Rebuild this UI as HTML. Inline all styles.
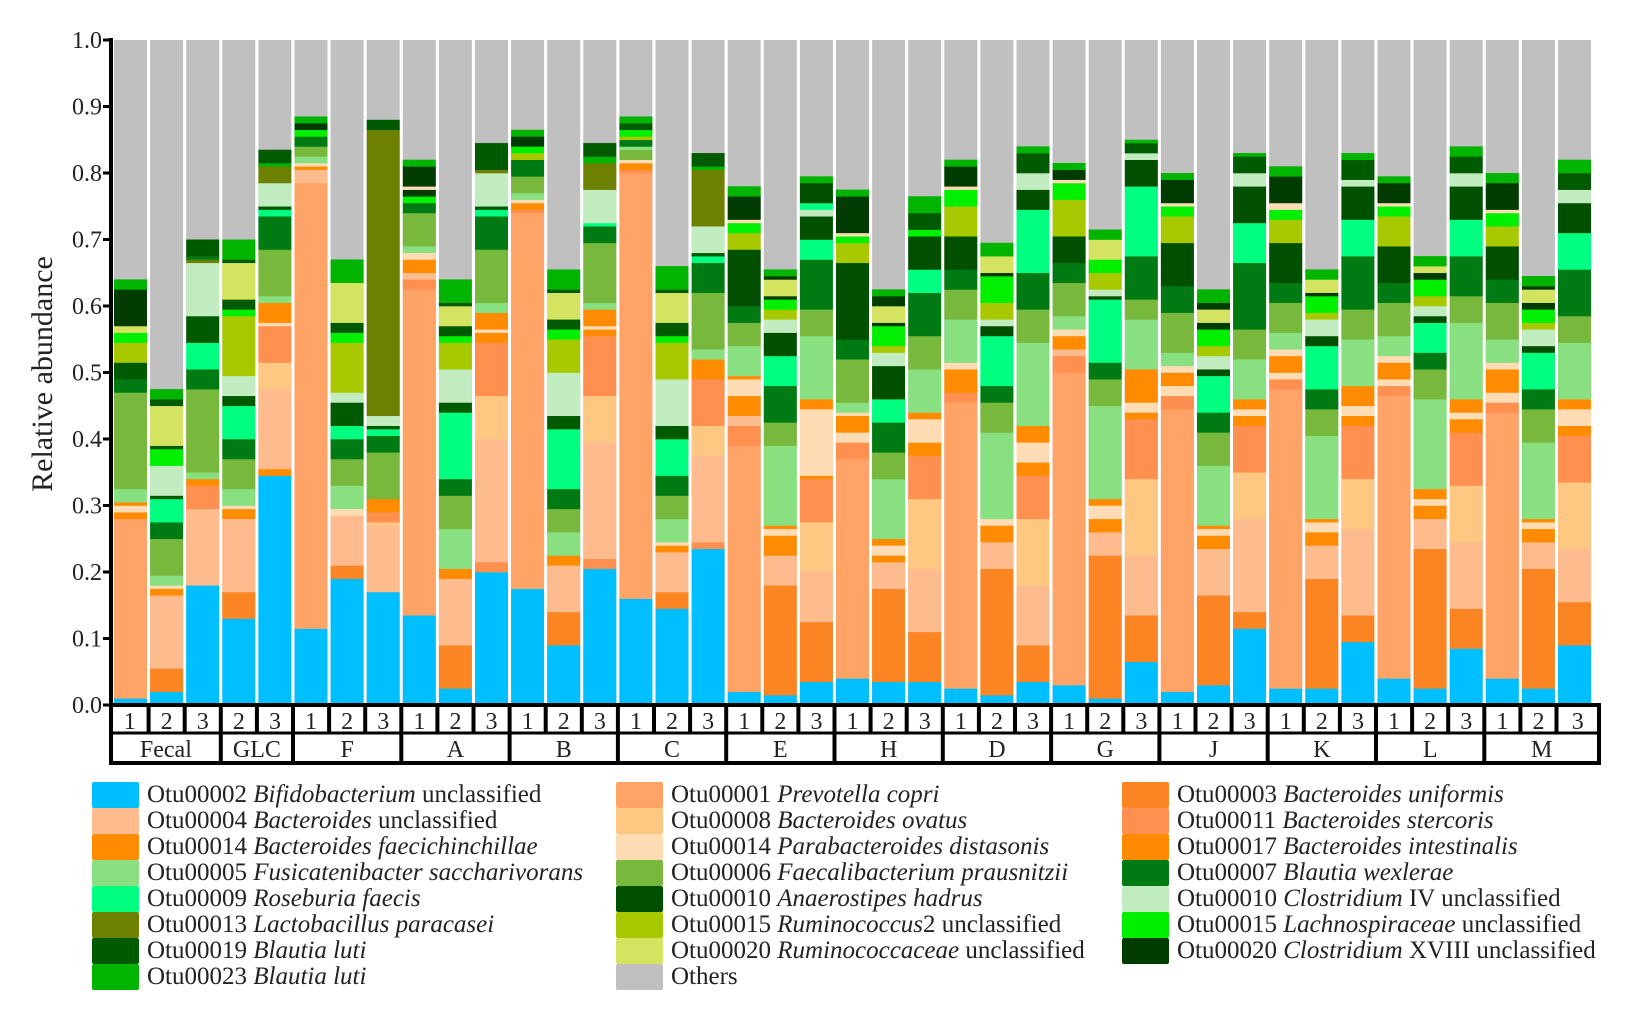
<!DOCTYPE html>
<html><head><meta charset="utf-8">
<style>
body{margin:0;background:#fff;width:1641px;height:1010px;overflow:hidden;position:relative;font-family:"Liberation Serif",serif;}
svg{position:absolute;left:0;top:0}
.lg{position:absolute;font-size:25px;line-height:26px;color:#222;white-space:nowrap}
.lg div{height:26px;position:relative}
.lg span.s{position:absolute;width:47px;height:26px;top:0;border-radius:2px}
.lg span.t{position:absolute;left:55px;top:0}
i{font-style:italic}
</style></head><body>
<svg id="ch" width="1641" height="1010" xmlns="http://www.w3.org/2000/svg" font-family="Liberation Serif, serif">
<text x="0" y="0" transform="translate(52,374) rotate(-90)" text-anchor="middle" font-size="30" fill="#222">Relative abundance</text>
<g id="ticks" font-size="24" fill="#222" text-anchor="end"></g>
<g id="bars"></g>
<g id="tbl"></g>
</svg>

<div class="lg" style="left:92px;top:782px">
<div><span class="s" style="background:#00bfff"></span><span class="t">Otu00002 <i>Bifidobacterium</i> unclassified</span></div>
<div><span class="s" style="background:#fdbb8e"></span><span class="t">Otu00004 <i>Bacteroides</i> unclassified</span></div>
<div><span class="s" style="background:#ff8c00"></span><span class="t">Otu00014 <i>Bacteroides faecichinchillae</i></span></div>
<div><span class="s" style="background:#88e080"></span><span class="t">Otu00005 <i>Fusicatenibacter saccharivorans</i></span></div>
<div><span class="s" style="background:#00ff80"></span><span class="t">Otu00009 <i>Roseburia faecis</i></span></div>
<div><span class="s" style="background:#6e8000"></span><span class="t">Otu00013 <i>Lactobacillus paracasei</i></span></div>
<div><span class="s" style="background:#005a00"></span><span class="t">Otu00019 <i>Blautia luti</i></span></div>
<div><span class="s" style="background:#00b400"></span><span class="t">Otu00023 <i>Blautia luti</i></span></div>
</div>
<div class="lg" style="left:616px;top:782px">
<div><span class="s" style="background:#ffa366"></span><span class="t">Otu00001 <i>Prevotella copri</i></span></div>
<div><span class="s" style="background:#ffc882"></span><span class="t">Otu00008 <i>Bacteroides ovatus</i></span></div>
<div><span class="s" style="background:#ffdcb4"></span><span class="t">Otu00014 <i>Parabacteroides distasonis</i></span></div>
<div><span class="s" style="background:#78b83c"></span><span class="t">Otu00006 <i>Faecalibacterium prausnitzii</i></span></div>
<div><span class="s" style="background:#005000"></span><span class="t">Otu00010 <i>Anaerostipes hadrus</i></span></div>
<div><span class="s" style="background:#a8c800"></span><span class="t">Otu00015 <i>Ruminococcus</i>2 unclassified</span></div>
<div><span class="s" style="background:#d4e460"></span><span class="t">Otu00020 <i>Ruminococcaceae</i> unclassified</span></div>
<div><span class="s" style="background:#c0c0c0"></span><span class="t">Others</span></div>
</div>
<div class="lg" style="left:1122px;top:782px">
<div><span class="s" style="background:#fb8423"></span><span class="t">Otu00003 <i>Bacteroides uniformis</i></span></div>
<div><span class="s" style="background:#ff9050"></span><span class="t">Otu00011 <i>Bacteroides stercoris</i></span></div>
<div><span class="s" style="background:#ff8a00"></span><span class="t">Otu00017 <i>Bacteroides intestinalis</i></span></div>
<div><span class="s" style="background:#007a12"></span><span class="t">Otu00007 <i>Blautia wexlerae</i></span></div>
<div><span class="s" style="background:#c0ecc0"></span><span class="t">Otu00010 <i>Clostridium</i> IV unclassified</span></div>
<div><span class="s" style="background:#00f000"></span><span class="t">Otu00015 <i>Lachnospiraceae</i> unclassified</span></div>
<div><span class="s" style="background:#003c00"></span><span class="t">Otu00020 <i>Clostridium</i> XVIII unclassified</span></div>
</div>

<script>
var C={blue:"#00bfff",P:"#ffa366",Bu:"#fdbb8e",Bf:"#ff8c00",Bun:"#fb8423",Bov:"#ffc882",Bst:"#ff9050",Pd:"#ffdcb4",Fus:"#88e080",Fae:"#78b83c",Ros:"#00ff80",Bw:"#007a12",Ah:"#005000",Cl4:"#c0ecc0",Lp:"#6e8000",Rum2:"#a8c800",Lach:"#00f000",B19:"#005a00",Rc:"#d4e460",C18:"#003c00",B23:"#00b400"};
var D=[
"blue .01 P .28 Bf .29 Pd .30 Bf .305 Fus .325 Fae .47 Bw .49 B19 .515 Rum2 .545 Lach .56 Rc .57 C18 .625 B23 .64",
"blue .02 Bun .055 Bu .165 Bf .175 Pd .18 Fus .195 Fae .25 Bw .275 Ros .31 B19 .315 Cl4 .36 Lach .385 B19 .39 Rc .45 B19 .46 B23 .475",
"blue .18 Bu .295 Bst .33 Bf .34 Fus .35 Fae .475 Bw .505 Ros .545 B19 .585 Cl4 .665 Lp .67 Bw .675 B19 .70",
"blue .13 Bun .17 Bu .28 Bf .295 Pd .30 Fus .325 Fae .37 Bw .40 Ros .45 B19 .465 Cl4 .495 Rum2 .585 Lach .595 B19 .61 Rc .665 B19 .67 B23 .70",
"blue .345 Bf .355 Bu .475 Bov .515 Bst .57 Pd .575 Bf .605 Fus .615 Fae .685 Bw .735 Ros .745 B19 .75 Cl4 .785 Lp .81 B23 .815 B19 .835",
"blue .115 P .785 Bu .805 Bf .81 Pd .815 Fus .825 Fae .84 Bw .855 Lach .865 C18 .875 B23 .885",
"blue .19 Bun .21 Bu .285 Pd .295 Fus .33 Fae .37 Bw .40 Ros .42 B19 .455 Cl4 .47 Rum2 .545 Lach .56 B19 .575 Rc .635 B23 .67",
"blue .17 Bu .27 Bov .275 Bst .29 Bf .31 Fae .38 Bw .405 Ros .415 B19 .42 Cl4 .435 Lp .865 B19 .88",
"blue .135 P .625 Bst .64 Bu .65 Bf .67 Pd .68 Fus .69 Fae .74 Bw .755 Lach .765 C18 .775 Pd .78 C18 .81 B23 .82",
"blue .025 Bun .09 Bu .19 Bf .205 Fus .265 Fae .315 Bw .34 Ros .44 B19 .455 Cl4 .505 Rum2 .545 Lach .555 B19 .57 Rc .60 B19 .605 B23 .64",
"blue .20 Bst .215 Bu .40 Bov .465 Bst .545 Bf .56 Pd .565 Bf .59 Fus .605 Fae .685 Bw .735 Ros .745 B19 .75 Cl4 .80 Lp .805 B19 .845",
"blue .175 P .74 Bst .745 Bf .755 Pd .76 Fus .77 Fae .795 Bw .82 Rum2 .83 Lach .84 C18 .855 B23 .865",
"blue .09 Bun .14 Bu .21 Bf .225 Fus .26 Fae .295 Bw .325 Ros .415 B19 .435 Cl4 .50 Rum2 .55 Lach .565 B19 .58 Rc .62 B19 .625 B23 .655",
"blue .205 Bst .22 Bu .395 Bov .465 Bst .555 Bf .565 Pd .57 Bf .595 Fus .605 Fae .695 Bw .72 Ros .725 Cl4 .775 Lp .815 B23 .825 B19 .845",
"blue .16 P .80 Bst .805 Bf .815 Pd .82 Fae .835 Fus .84 Bw .85 Rum2 .855 Lach .865 B19 .875 B23 .885",
"blue .145 Bun .17 Bu .23 Bf .24 Pd .245 Fus .28 Fae .315 Bw .345 Ros .40 B19 .42 Cl4 .49 Rum2 .545 Lach .555 B19 .575 Rc .62 B19 .625 B23 .66",
"blue .235 Bst .245 Bu .375 Bov .42 Bst .49 Bf .52 Fus .535 Fae .62 Bw .665 Ros .675 B19 .68 Cl4 .72 Lp .805 B23 .81 B19 .83",
"blue .02 P .39 Bst .42 Bu .435 Bf .465 Pd .49 Bf .495 Fus .54 Fae .575 Bw .60 Ah .685 Rum2 .71 Lach .725 Pd .73 C18 .765 B23 .78",
"blue .015 Bun .18 Bu .225 Bf .255 Pd .265 Bf .27 Fus .39 Fae .425 Bw .48 Ros .525 Ah .56 Cl4 .58 Rum2 .595 Lach .61 C18 .615 Rc .64 C18 .645 B23 .655",
"blue .035 Bun .125 Bu .20 Bov .275 Bst .34 Bf .345 Pd .445 Bf .46 Fus .555 Fae .595 Bw .67 Ros .70 Ah .735 Cl4 .745 Ros .755 Ah .785 B23 .795",
"blue .04 P .37 Bst .395 Pd .41 Bf .435 Pd .44 Fus .455 Fae .52 Bw .55 Ah .665 Rum2 .695 Lach .705 Pd .71 C18 .765 B23 .775",
"blue .035 Bun .175 Bu .215 Bf .225 Pd .24 Bf .25 Fus .34 Fae .38 Bw .425 Ros .46 Ah .51 Cl4 .53 Rum2 .54 Lach .57 C18 .575 Rc .60 C18 .615 B23 .625",
"blue .035 Bun .11 Bu .205 Bov .31 Bst .375 Bf .395 Pd .43 Bf .44 Fus .505 Fae .555 Bw .62 Ros .655 Ah .705 Lach .715 B19 .74 B23 .765",
"blue .025 P .455 Bst .47 Bf .505 Pd .515 Fus .58 Fae .625 Bw .655 Ah .705 Rum2 .75 Lach .775 Pd .78 C18 .81 B23 .82",
"blue .015 Bun .205 Bu .245 Bf .27 Pd .28 Fus .41 Fae .455 Bw .48 Ros .555 Ah .57 Cl4 .58 Rum2 .605 Lach .645 C18 .65 Rc .675 B23 .695",
"blue .035 Bun .09 Bu .18 Bov .28 Bst .345 Bf .365 Pd .395 Bf .42 Fus .545 Fae .595 Bw .65 Ros .745 Ah .775 Cl4 .80 B19 .83 B23 .84",
"blue .03 P .50 Bst .525 Bu .535 Bf .555 Pd .565 Fus .585 Fae .635 Bw .665 Ah .705 Rum2 .76 Lach .785 Pd .79 C18 .805 B23 .815",
"blue .01 Bun .225 Bu .26 Bf .28 Pd .30 Bf .31 Fus .45 Fae .49 Bw .515 Ros .61 Ah .615 Cl4 .625 Rum2 .65 Lach .67 Rc .70 B23 .715",
"blue .065 Bun .135 Bu .225 Bov .34 Bst .43 Bf .44 Pd .455 Bf .505 Fus .58 Fae .61 Bw .675 Ros .78 Ah .82 Cl4 .83 B19 .845 B23 .85",
"blue .02 P .445 Bst .465 Pd .48 Bf .50 Pd .51 Fus .53 Fae .59 Bw .63 Ah .695 Rum2 .735 Lach .75 Pd .755 C18 .79 B23 .80",
"blue .03 Bun .165 Bu .235 Bf .255 Pd .265 Bf .27 Fus .36 Fae .41 Bw .44 Ros .495 Ah .505 Cl4 .525 Rum2 .54 Lach .565 C18 .575 Rc .595 C18 .605 B23 .625",
"blue .115 Bun .14 Bu .28 Bov .35 Bst .42 Bf .435 Pd .445 Bf .46 Fus .52 Fae .565 Bw .665 Ros .725 Ah .78 Cl4 .80 B19 .825 B23 .83",
"blue .025 P .475 Bst .49 Pd .50 Bf .525 Pd .535 Fus .56 Fae .605 Bw .635 Ah .695 Rum2 .73 Lach .745 Pd .755 C18 .795 B23 .81",
"blue .025 Bun .19 Bu .24 Bf .26 Pd .275 Bf .28 Fus .405 Fae .445 Bw .475 Ros .54 Ah .555 Cl4 .58 Rum2 .59 Lach .615 C18 .62 Rc .64 B23 .655",
"blue .095 Bun .135 Bu .265 Bov .34 Bst .42 Bf .435 Pd .45 Bf .48 Fus .55 Fae .595 Bw .675 Ros .73 Ah .78 Cl4 .79 B19 .82 B23 .83",
"blue .04 P .465 Bst .48 Pd .49 Bf .515 Pd .525 Fus .555 Fae .605 Bw .635 Ah .69 Rum2 .735 Lach .75 Pd .755 C18 .785 B23 .795",
"blue .025 Bun .235 Bu .28 Bf .30 Pd .31 Bf .325 Fus .46 Fae .505 Bw .53 Ros .575 Ah .585 Cl4 .60 Rum2 .615 Lach .64 C18 .65 Rc .66 B23 .675",
"blue .085 Bun .145 Bu .245 Bov .33 Bst .41 Bf .43 Pd .44 Bf .46 Fus .575 Fae .615 Bw .675 Ros .73 Ah .78 Cl4 .80 B19 .825 B23 .84",
"blue .04 P .44 Bst .455 Pd .47 Bf .505 Pd .515 Fus .55 Fae .605 Bw .64 Ah .69 Rum2 .72 Lach .74 Pd .745 C18 .785 B23 .80",
"blue .025 Bun .205 Bu .245 Bf .265 Pd .275 Bf .28 Fus .395 Fae .445 Bw .475 Ros .53 Ah .54 Cl4 .565 Rum2 .575 Lach .595 C18 .605 Rc .625 C18 .63 B23 .645",
"blue .09 Bun .155 Bu .235 Bov .335 Bst .405 Bf .42 Pd .445 Bf .46 Fus .545 Fae .585 Bw .655 Ros .71 Ah .755 Cl4 .775 B19 .80 B23 .82"
];
var NS="http://www.w3.org/2000/svg";
function el(n,a,p,t){var e=document.createElementNS(NS,n);for(var k in a)e.setAttribute(k,a[k]);if(t!=null)e.textContent=t;p.appendChild(e);return e;}
var g=document.getElementById("bars"),tb=document.getElementById("tbl"),tk=document.getElementById("ticks");
var Y0=705,H=665,X0=114,PW=36.1,BW=33;
function Y(v){return Y0-v*H;}
for(var k=0;k<=10;k++){el("text",{x:102,y:Y(k/10)+8},tk,(k/10).toFixed(1));}
D.forEach(function(s,i){
  var x=X0+i*PW, a=s.split(" "), prev=0;
  el("rect",{x:x,y:Y(1),width:BW,height:H,fill:"#c0c0c0"},g);
  for(var j=0;j<a.length;j+=2){var v=parseFloat(a[j+1]);el("rect",{x:x,y:Y(v),width:BW,height:(v-prev)*H+0.3,fill:C[a[j]]},g);prev=v;}
});
el("line",{x1:111,y1:38,x2:111,y2:707,stroke:"#000","stroke-width":4},g);
for(var k=0;k<=10;k++){el("line",{x1:103,y1:Y(k/10),x2:111,y2:Y(k/10),stroke:"#000","stroke-width":3},g);}
var nums=["1","2","3","2","3"];for(var q=0;q<12;q++)nums.push("1","2","3");
var L=111,R=1599,T=705,M=733,B=763;
var edges=[L];for(var i=1;i<41;i++)edges.push(X0+i*PW-1.5);edges.push(R);
el("rect",{x:L,y:T,width:R-L,height:B-T,fill:"#fff",stroke:"#000","stroke-width":4},tb);
el("line",{x1:L,y1:M,x2:R,y2:M,stroke:"#000","stroke-width":3},tb);
for(var i=0;i<41;i++){
  if(i>0)el("line",{x1:edges[i],y1:T,x2:edges[i],y2:M,stroke:"#000","stroke-width":4},tb);
  el("text",{x:(edges[i]+edges[i+1])/2,y:M-4,"text-anchor":"middle","font-size":24,fill:"#222"},tb,nums[i]);
}
var groups=[["Fecal",3],["GLC",2],["F",3],["A",3],["B",3],["C",3],["E",3],["H",3],["D",3],["G",3],["J",3],["K",3],["L",3],["M",3]];
var idx=0;
groups.forEach(function(gp){
  var a=edges[idx],b=edges[idx+gp[1]];
  if(idx>0)el("line",{x1:a,y1:M,x2:a,y2:B,stroke:"#000","stroke-width":4},tb);
  el("text",{x:(a+b)/2,y:B-6,"text-anchor":"middle","font-size":24,fill:"#222"},tb,gp[0]);
  idx+=gp[1];
});
</script>
</body></html>
